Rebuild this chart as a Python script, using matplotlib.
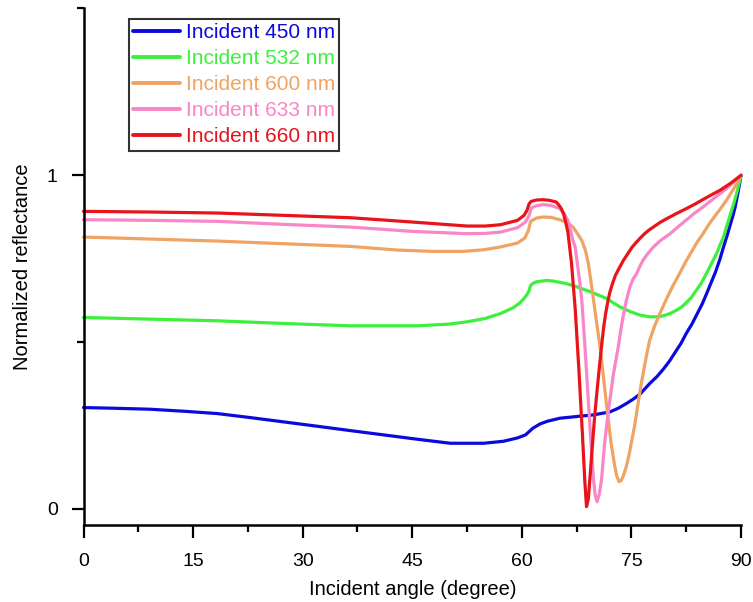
import matplotlib
matplotlib.use("Agg")
import matplotlib.pyplot as plt
from matplotlib.ticker import MultipleLocator

plt.rcParams['font.family'] = ['Liberation Sans', 'DejaVu Sans']

labels = ["Incident 450 nm", "Incident 532 nm", "Incident 600 nm",
          "Incident 633 nm", "Incident 660 nm"]
colors = ["#0A0ADC", "#3CF03C", "#F0A464", "#F986C6", "#E8141A"]

x450 = [0, 4, 9.1, 13.7, 18.3, 22.8, 27.4, 32, 36.5, 41.1, 45.7, 50.2, 54.8, 57.5,
        59.4, 60.5, 61.0, 61.5, 62.5, 63.5, 65.2, 67.9, 69.8, 72.05, 73.2, 74.3,
        75.3, 76.2, 77.5, 78.5, 79.4, 80.2, 81.0, 81.8, 82.5, 83.3, 84.0, 84.7, 85.3,
        85.9, 86.5, 87.1, 87.6, 88.1, 88.5, 88.9, 89.2, 89.6, 90]
y450 = [0.304, 0.302, 0.299, 0.293, 0.286, 0.274, 0.261, 0.248, 0.235, 0.222, 0.209,
        0.197, 0.197, 0.203, 0.213, 0.222, 0.232, 0.242, 0.255, 0.263, 0.272, 0.278,
        0.282, 0.291, 0.302, 0.316, 0.330, 0.345, 0.376, 0.397, 0.420, 0.443, 0.470,
        0.497, 0.526, 0.555, 0.585, 0.615, 0.646, 0.678, 0.710, 0.748, 0.785, 0.820,
        0.850, 0.880, 0.905, 0.950, 1.0]

x532 = [0, 9.1, 18.3, 27.4, 36.5, 45.7, 50, 52.5, 55, 57.1, 58.8, 59.7, 60.3, 60.7,
        61.0, 61.2, 61.5, 62, 63.4, 64.3, 66, 67.5, 69.5, 71.6, 72.5, 73.4, 75, 76.2,
        77.5, 78.4, 79.0, 79.5, 80.3, 81.2, 81.9, 82.5, 83.2, 83.9, 84.5, 85, 85.6,
        86.2, 86.7, 87.1, 87.6, 88, 88.5, 89, 89.5, 90]
y532 = [0.574, 0.569, 0.564, 0.556, 0.549, 0.549, 0.554, 0.561, 0.571, 0.586, 0.603,
        0.617, 0.631, 0.642, 0.655, 0.670, 0.676, 0.681, 0.685, 0.683, 0.676, 0.666,
        0.650, 0.631, 0.618, 0.606, 0.590, 0.581, 0.576, 0.576, 0.577, 0.580, 0.586,
        0.596, 0.606, 0.618, 0.634, 0.656, 0.675, 0.695, 0.720, 0.746, 0.768, 0.790,
        0.815, 0.845, 0.880, 0.915, 0.955, 1.0]

x600 = [0, 9.1, 18.3, 27.4, 36.5, 43, 47.7, 52, 54.8, 57, 59.4, 60.4, 60.9, 61.2,
        62, 62.9, 64, 65.2, 66.2, 67, 67.7, 68.2, 68.7, 69.1, 69.6, 70.1, 70.7, 71.2,
        71.7, 72.2, 72.7, 73.0, 73.3, 73.6, 73.9, 74.3, 74.7, 75.0, 75.4, 75.7, 76.3,
        76.8, 77.2, 77.5, 78.2, 78.9, 79.8, 80.7, 81.6, 82.4, 83.2, 84.0, 84.8, 85.6,
        86.5, 87.2, 88, 89, 90]
y600 = [0.815, 0.809, 0.803, 0.795, 0.787, 0.776, 0.772, 0.772, 0.777, 0.785, 0.797,
        0.812, 0.835, 0.862, 0.872, 0.875, 0.874, 0.867, 0.858, 0.845, 0.822, 0.805,
        0.775, 0.736, 0.660, 0.580, 0.486, 0.390, 0.290, 0.200, 0.130, 0.098, 0.082,
        0.085, 0.100, 0.127, 0.165, 0.200, 0.245, 0.287, 0.370, 0.430, 0.475, 0.506,
        0.550, 0.586, 0.630, 0.670, 0.706, 0.740, 0.770, 0.800, 0.825, 0.853, 0.880,
        0.900, 0.925, 0.960, 1.0]

x633 = [0, 9.1, 18.3, 27.4, 36.5, 45, 52.5, 55, 57.1, 59.4, 60.5, 61.0, 61.3, 62,
        62.9, 64, 65.2, 65.8, 66.3, 67, 67.3, 67.9, 68.2, 68.6, 69.0, 69.4, 69.8,
        70.05, 70.3, 70.6, 70.9, 71.3, 71.8, 72.2, 72.5, 72.9, 73.2, 73.5, 73.8, 74.3,
        74.8, 75.2, 75.7, 76.1, 76.6, 77.3, 78, 79, 80.3, 81.4, 82.5, 83.6, 84.8,
        86.4, 88, 90]
y633 = [0.867, 0.865, 0.862, 0.853, 0.845, 0.832, 0.825, 0.826, 0.830, 0.843, 0.860,
        0.880, 0.902, 0.909, 0.912, 0.910, 0.900, 0.885, 0.865, 0.805, 0.785, 0.686,
        0.626, 0.500, 0.360, 0.220, 0.090, 0.040, 0.022, 0.045, 0.087, 0.190, 0.287,
        0.350, 0.400, 0.450, 0.486, 0.530, 0.570, 0.625, 0.666, 0.688, 0.705, 0.725,
        0.746, 0.767, 0.785, 0.805, 0.825, 0.846, 0.866, 0.886, 0.905, 0.933, 0.960,
        1.0]

x660 = [0, 9.1, 18.3, 27.4, 36.5, 45, 52.5, 55, 57.1, 59.4, 60.3, 60.7, 61.0, 61.3,
        62, 62.9, 63.8, 64.7, 65.1, 65.4, 65.7, 66.0, 66.3, 66.8, 67.3, 67.8, 68.3,
        68.6, 68.85, 69.1, 69.3, 69.65, 70.0, 70.45, 70.9, 71.2, 71.5, 71.8, 72.05,
        72.4, 72.8, 73.4, 73.9, 74.5, 75.1, 75.7, 76.2, 76.8, 77.4, 78, 79, 80, 81.2,
        82.5, 83.8, 85, 86, 87.1, 88.5, 90]
y660 = [0.892, 0.890, 0.887, 0.880, 0.873, 0.860, 0.848, 0.848, 0.852, 0.865, 0.880,
        0.895, 0.915, 0.922, 0.926, 0.927, 0.925, 0.920, 0.910, 0.900, 0.885, 0.860,
        0.830, 0.736, 0.600, 0.420, 0.220, 0.090, 0.007, 0.030, 0.087, 0.190, 0.287,
        0.390, 0.486, 0.545, 0.590, 0.625, 0.650, 0.675, 0.700, 0.725, 0.745, 0.765,
        0.785, 0.800, 0.812, 0.825, 0.836, 0.845, 0.860, 0.872, 0.886, 0.900, 0.915,
        0.930, 0.942, 0.955, 0.975, 1.0]

xs = [x450, x532, x600, x633, x660]
ys = [y450, y532, y600, y633, y660]

xticks = [0, 15, 30, 45, 60, 75, 90]
yticks = [0, 1]

fig = plt.figure(figsize=(7.53, 6.02), dpi=100)
ax = fig.add_axes([0.1109, 0.1279, 0.8732, 0.858])

for x, y, c, lab in zip(xs, ys, colors, labels):
    ax.plot(x, y, color=c, lw=2.3, label=lab, solid_joinstyle='round',
            solid_capstyle='round', clip_on=False)

ax.set_xlim(0, 90)
ax.set_ylim(-0.048, 1.5)
ax.set_xticks(xticks)
ax.set_yticks(yticks)
ax.xaxis.set_minor_locator(MultipleLocator(7.5))
ax.yaxis.set_minor_locator(MultipleLocator(0.5))
ax.tick_params(which='major', direction='out', length=9, width=1.6, labelsize=14)
ax.tick_params(axis='x', which='major', pad=11.5)
ax.tick_params(axis='y', which='major', pad=9.5)
ax.tick_params(which='minor', direction='out', length=5, width=1.6)
for s in ['top', 'right']:
    ax.spines[s].set_visible(False)
for s in ['left', 'bottom']:
    ax.spines[s].set_linewidth(1.8)

ax.set_xlabel("Incident angle (degree)", fontsize=14.5, labelpad=7)
ax.set_ylabel("Normalized reflectance", fontsize=14.5, labelpad=10.5)

leg = ax.legend(loc='upper left', bbox_to_anchor=(128.5 / 753, 1 - 19 / 602),
                bbox_transform=fig.transFigure, borderaxespad=0, fontsize=15,
                frameon=True, fancybox=False, shadow=False, handlelength=2.25,
                handletextpad=0.3, labelspacing=0.34, borderpad=0.2)
leg.get_frame().set_edgecolor('black')
leg.get_frame().set_linewidth(1.5)
for line in leg.get_lines():
    line.set_linewidth(2.8)
for t, c in zip(leg.get_texts(), colors):
    t.set_color(c)

fig.savefig("out.png", dpi=100)
